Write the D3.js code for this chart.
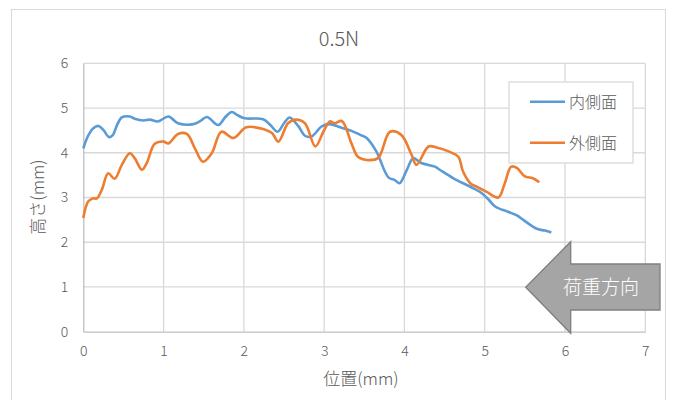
<!DOCTYPE html>
<html><head><meta charset="utf-8">
<script src="https://cdn.jsdelivr.net/npm/d3@7"></script>
<style>
html,body{margin:0;padding:0;background:#fff;}
text{font-family:"Noto Sans CJK JP","Noto Sans",sans-serif;font-weight:300;}
</style></head>
<body>
<svg id="c" width="675" height="400"></svg>
<script>
const title = "0.5N";
const seriesNames = ["内側面", "外側面"];
const xTicks = [0,1,2,3,4,5,6,7];
const yTicks = [0,1,2,3,4,5,6];
const innerX = [0,0.06,0.125,0.19,0.25,0.32,0.37,0.42,0.48,0.58,0.64,0.75,0.83,0.93,1.06,1.18,1.37,1.45,1.54,1.68,1.77,1.85,1.92,2.01,2.24,2.33,2.42,2.5,2.57,2.68,2.76,2.84,2.97,3.07,3.20,3.34,3.45,3.53,3.65,3.80,3.88,3.94,4.03,4.11,4.21,4.38,4.44,4.61,4.82,4.96,5.05,5.13,5.29,5.40,5.48,5.65,5.75,5.83];
const innerY = [4.10,4.38,4.55,4.60,4.51,4.35,4.40,4.62,4.79,4.81,4.76,4.72,4.74,4.70,4.81,4.66,4.64,4.70,4.80,4.62,4.80,4.91,4.84,4.77,4.75,4.62,4.47,4.66,4.79,4.59,4.38,4.36,4.59,4.64,4.57,4.49,4.40,4.33,4.03,3.45,3.39,3.32,3.62,3.88,3.77,3.69,3.62,3.43,3.24,3.10,2.95,2.80,2.68,2.60,2.50,2.30,2.26,2.22];
const outerX = [0,0.06,0.12,0.17,0.23,0.31,0.39,0.48,0.58,0.64,0.73,0.79,0.89,1.0,1.06,1.18,1.29,1.39,1.49,1.60,1.72,1.87,2.03,2.24,2.35,2.43,2.55,2.64,2.76,2.89,2.99,3.07,3.13,3.22,3.34,3.42,3.53,3.67,3.82,3.96,4.09,4.15,4.30,4.40,4.55,4.67,4.73,4.82,4.90,5.02,5.17,5.25,5.33,5.40,5.50,5.60,5.68];
const outerY = [2.54,2.91,2.98,2.98,3.17,3.54,3.42,3.73,3.99,3.88,3.62,3.77,4.20,4.25,4.21,4.42,4.42,4.10,3.80,3.99,4.47,4.33,4.57,4.53,4.44,4.25,4.66,4.74,4.66,4.14,4.47,4.70,4.66,4.71,4.21,3.91,3.84,3.88,4.47,4.40,3.95,3.73,4.14,4.12,4.03,3.91,3.58,3.32,3.24,3.13,3.00,3.32,3.69,3.66,3.47,3.43,3.34];
const colors = ["#5B9BD5", "#ED7D31"];

const svg = d3.select("#c");
svg.append("rect").attr("x",11.5).attr("y",9.5).attr("width",654).attr("height",400)
  .attr("fill","#fff").attr("stroke","#d9d9d9").attr("stroke-width",1);

const x = d3.scaleLinear().domain([0,7]).range([83.3,645.3]);
const y = d3.scaleLinear().domain([0,6]).range([331.7,63.3]);

const g = svg.append("g");
g.selectAll(".hg").data(yTicks.filter(d=>d>0)).enter().append("line")
  .attr("x1",x(0)).attr("x2",x(7)).attr("y1",d=>y(d)).attr("y2",d=>y(d))
  .attr("stroke","#d9d9d9").attr("stroke-width",1.3);
g.selectAll(".vg").data(xTicks.filter(d=>d>0)).enter().append("line")
  .attr("y1",y(0)).attr("y2",y(6)).attr("x1",d=>x(d)).attr("x2",d=>x(d))
  .attr("stroke","#d9d9d9").attr("stroke-width",1.3);

const xAxis = d3.axisBottom(x).tickValues(xTicks).tickFormat(d3.format("d")).tickSize(0).tickPadding(14);
const yAxis = d3.axisLeft(y).tickValues(yTicks).tickFormat(d3.format("d")).tickSize(0).tickPadding(15);
const gx = svg.append("g").attr("transform",`translate(0,${y(0)})`).call(xAxis);
const gy = svg.append("g").attr("transform",`translate(${x(0)},0)`).call(yAxis);
[gx,gy].forEach(a=>{
  a.select(".domain").attr("stroke","#bfbfbf").attr("stroke-width",1.3);
  a.selectAll("text").attr("fill","#595959").style("font-size","14px")
   .style("font-family","'Noto Sans CJK JP','Noto Sans',sans-serif").style("font-weight","300");
});

const line = d3.line().x(d=>x(d[0])).y(d=>y(d[1])).curve(d3.curveCatmullRom.alpha(0.5));
const inner = innerX.map((v,i)=>[v,innerY[i]]);
const outer = outerX.map((v,i)=>[v,outerY[i]]);
svg.append("path").datum(inner).attr("d",line).attr("fill","none")
  .attr("stroke",colors[0]).attr("stroke-width",2.6).attr("stroke-linejoin","round");
svg.append("path").datum(outer).attr("d",line).attr("fill","none")
  .attr("stroke",colors[1]).attr("stroke-width",2.6).attr("stroke-linejoin","round");

svg.append("text").attr("x",339).attr("y",46).attr("text-anchor","middle")
  .attr("fill","#595959").style("font-size","20px").text(title);

svg.append("text").attr("x",361).attr("y",385).attr("text-anchor","middle")
  .attr("fill","#595959").style("font-size","17px").text("位置(mm)");
svg.append("g").attr("opacity",0.999)
  .append("text").attr("transform","translate(44,197) rotate(-90)").attr("text-anchor","middle")
  .attr("fill","#595959").style("font-size","17px").text("高さ(mm)");

const lg = svg.append("g");
lg.append("rect").attr("x",509).attr("y",82).attr("width",124).attr("height",81)
  .attr("fill","#fff").attr("stroke","#d9d9d9").attr("stroke-width",1.3);
seriesNames.forEach((n,i)=>{
  const yy = 101.7 + i*41;
  lg.append("line").attr("x1",530).attr("x2",565).attr("y1",yy).attr("y2",yy)
    .attr("stroke",colors[i]).attr("stroke-width",2.6);
  lg.append("text").attr("x",569).attr("y",yy+6).attr("fill","#595959")
    .style("font-size","16px").text(n);
});

const ax = svg.append("g");
const pts = [[525.7,287.3],[570.7,241.7],[570.7,264],[660,264],[660,310],[570.7,310],[570.7,333.3]];
ax.append("polygon").attr("points",pts.map(p=>p.join(",")).join(" "))
  .attr("fill","#a5a5a5").attr("stroke","#7f7f7f").attr("stroke-width",1.3);
ax.append("text").attr("x",601).attr("y",294).attr("text-anchor","middle")
  .attr("fill","#ffffff").style("font-size","19px").text("荷重方向");
</script>
</body></html>
